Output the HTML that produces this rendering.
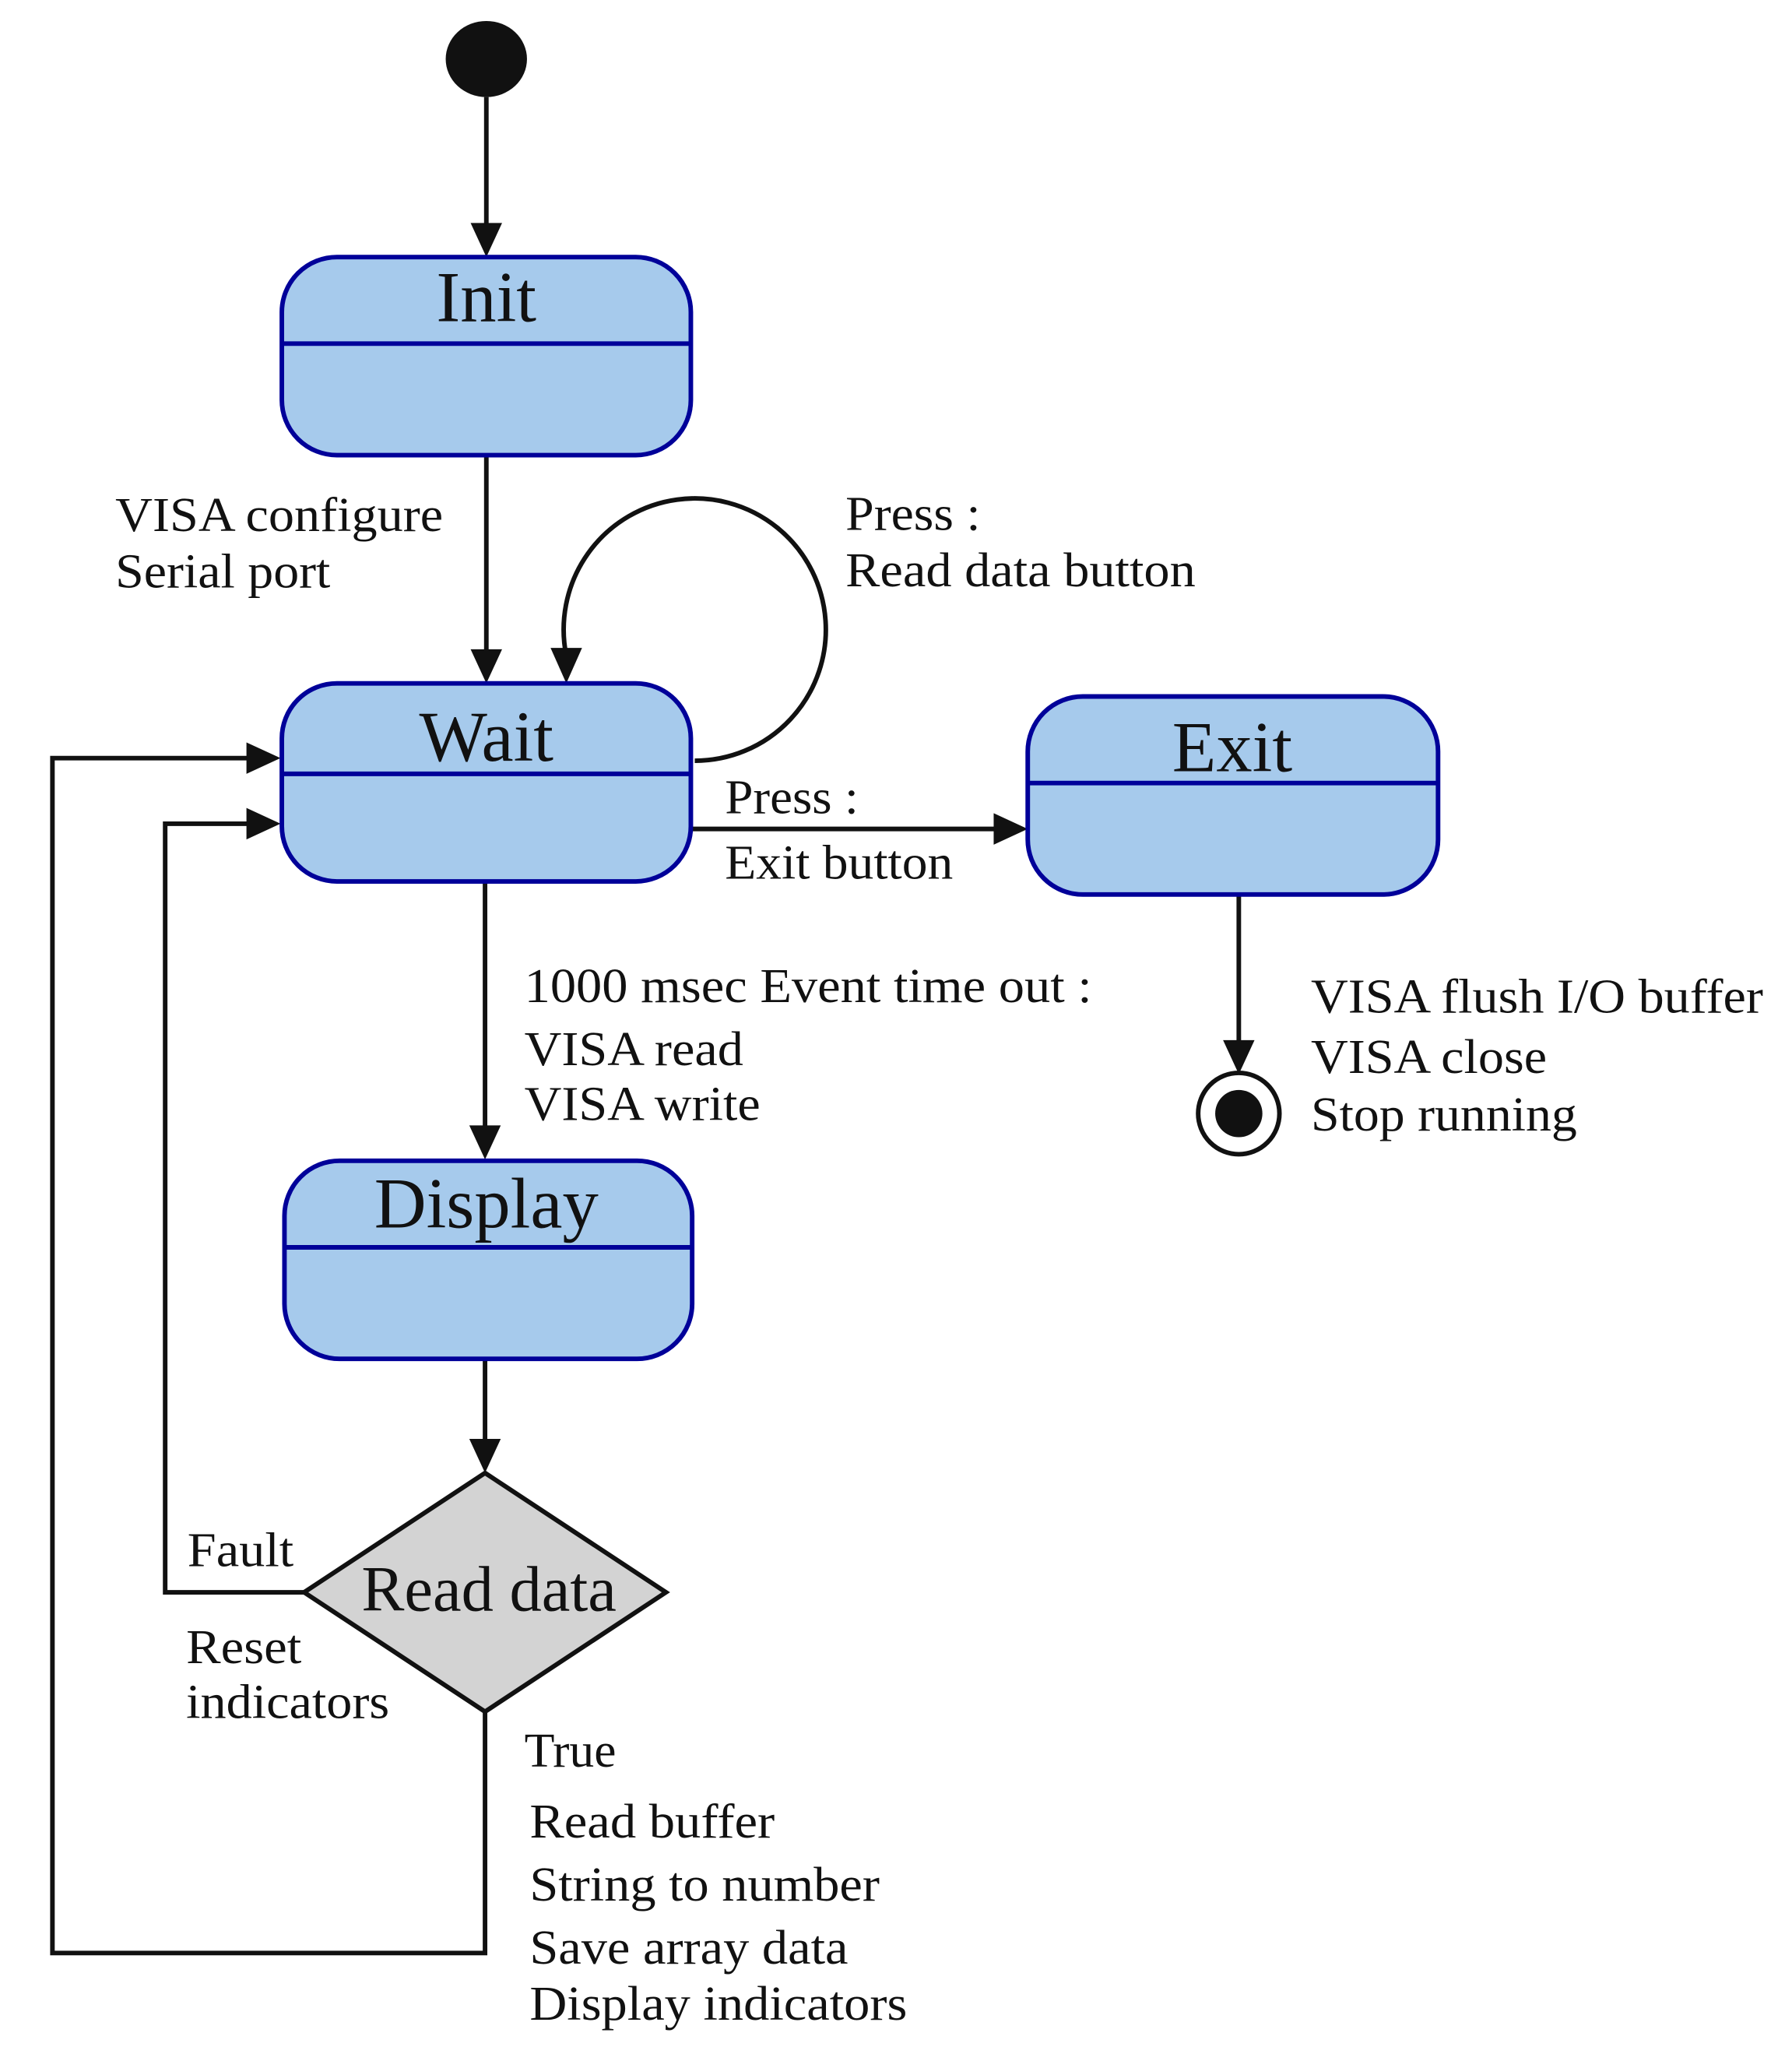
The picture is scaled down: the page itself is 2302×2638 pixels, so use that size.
<!DOCTYPE html>
<html><head><meta charset="utf-8"><style>
html,body{margin:0;padding:0;background:#fff;}
svg{display:block;}
text{font-family:"Liberation Serif",serif;fill:#111;}
.l{font-size:37px;}
.t{font-size:55px;text-anchor:middle;}
</style></head><body>
<svg width="2302" height="2638" viewBox="0 0 1367 1566" preserveAspectRatio="none" xmlns="http://www.w3.org/2000/svg">
<g stroke="#111" stroke-width="3.5" fill="none">
<ellipse cx="371" cy="45" rx="31" ry="29" fill="#111" stroke="none"/>
<line x1="371" y1="74" x2="371" y2="175"/>
<line x1="371" y1="347" x2="371" y2="500"/>
<path d="M530,580 A100,100 0 1 0 432,500"/>
<line x1="527" y1="632" x2="763" y2="632"/>
<line x1="945" y1="680" x2="945" y2="798"/>
<line x1="370" y1="672" x2="370" y2="863"/>
<line x1="370" y1="1036" x2="370" y2="1102"/>
<polyline points="232,1214 126,1214 126,628 193,628"/>
<polyline points="370,1305 370,1489 40,1489 40,578 193,578"/>
<circle cx="945" cy="849" r="31"/>
</g>
<g fill="#111">
<polygon points="359,170 383,170 371,196"/>
<polygon points="359,495 383,495 371,521"/>
<polygon points="420,494 444,494 432,521"/>
<polygon points="758,620 758,644 784,632"/>
<polygon points="933,793 957,793 945,819"/>
<polygon points="358,858 382,858 370,884"/>
<polygon points="358,1097 382,1097 370,1123"/>
<polygon points="188,616 188,640 214,628"/>
<polygon points="188,566 188,590 214,578"/>
<circle cx="945" cy="849" r="18"/>
</g>
<g fill="#a6caec" stroke="#000099" stroke-width="3.5">
<rect x="215" y="196" width="312" height="151" rx="42"/>
<line x1="215" y1="262" x2="527" y2="262"/>
<rect x="215" y="521" width="312" height="151" rx="42"/>
<line x1="215" y1="590" x2="527" y2="590"/>
<rect x="784" y="531" width="313" height="151" rx="42"/>
<line x1="784" y1="597" x2="1097" y2="597"/>
<rect x="217" y="885" width="311" height="151" rx="42"/>
<line x1="217" y1="951" x2="528" y2="951"/>
</g>
<polygon points="370,1123 508,1214 370,1305 232,1214" fill="#d3d3d3" stroke="#111" stroke-width="3.5"/>
<text class="t" x="371" y="245">Init</text>
<text class="t" x="371" y="580">Wait</text>
<text class="t" x="940" y="588">Exit</text>
<text class="t" x="371" y="936">Display</text>
<text class="t" x="373" y="1228" style="font-size:49px">Read data</text>
<g lengthAdjust="spacingAndGlyphs">
<text class="l" x="88" y="405" textLength="250" lengthAdjust="spacingAndGlyphs">VISA configure</text>
<text class="l" x="88" y="448" textLength="164" lengthAdjust="spacingAndGlyphs">Serial port</text>
<text class="l" x="645" y="404" textLength="103" lengthAdjust="spacingAndGlyphs">Press :</text>
<text class="l" x="645" y="447" textLength="267" lengthAdjust="spacingAndGlyphs">Read data button</text>
<text class="l" x="553" y="620" textLength="102" lengthAdjust="spacingAndGlyphs">Press :</text>
<text class="l" x="553" y="670" textLength="174" lengthAdjust="spacingAndGlyphs">Exit button</text>
<text class="l" x="1000" y="772" textLength="345" lengthAdjust="spacingAndGlyphs">VISA flush I/O buffer</text>
<text class="l" x="1000" y="818" textLength="180" lengthAdjust="spacingAndGlyphs">VISA close</text>
<text class="l" x="1000" y="862" textLength="203" lengthAdjust="spacingAndGlyphs">Stop running</text>
<text class="l" x="400" y="764" textLength="433" lengthAdjust="spacingAndGlyphs">1000 msec Event time out :</text>
<text class="l" x="400" y="812" textLength="167" lengthAdjust="spacingAndGlyphs">VISA read</text>
<text class="l" x="400" y="854" textLength="180" lengthAdjust="spacingAndGlyphs">VISA write</text>
<text class="l" x="143" y="1194" textLength="81" lengthAdjust="spacingAndGlyphs">Fault</text>
<text class="l" x="142" y="1268" textLength="88" lengthAdjust="spacingAndGlyphs">Reset</text>
<text class="l" x="142" y="1310" textLength="155" lengthAdjust="spacingAndGlyphs">indicators</text>
<text class="l" x="400" y="1347" textLength="70" lengthAdjust="spacingAndGlyphs">True</text>
<text class="l" x="404" y="1401" textLength="187" lengthAdjust="spacingAndGlyphs">Read buffer</text>
<text class="l" x="404" y="1449" textLength="267" lengthAdjust="spacingAndGlyphs">String to number</text>
<text class="l" x="404" y="1497" textLength="243" lengthAdjust="spacingAndGlyphs">Save array data</text>
<text class="l" x="404" y="1540" textLength="288" lengthAdjust="spacingAndGlyphs">Display indicators</text>
</g>
</svg>
</body></html>
